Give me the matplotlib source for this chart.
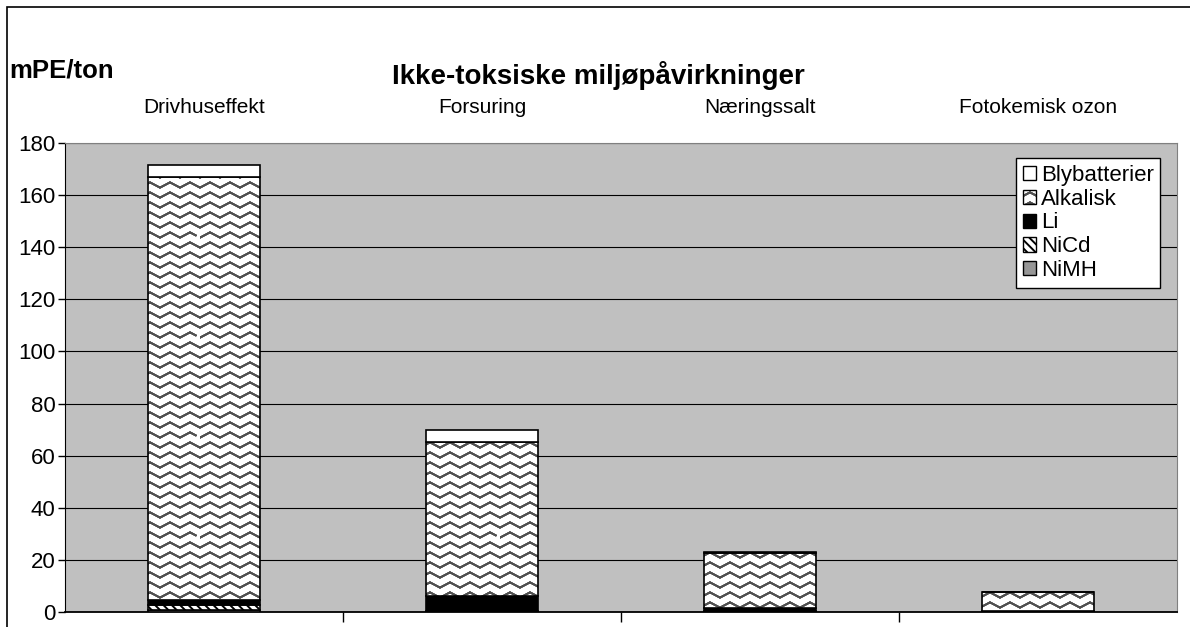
import warnings
import numpy as np
import matplotlib
matplotlib.use('Agg')
import matplotlib.pyplot as plt
import matplotlib.hatch as mhatch
from matplotlib.colors import to_rgba
from matplotlib.path import Path
from matplotlib.patches import Rectangle

warnings.filterwarnings('ignore')

# data (mPE/ton)
categories = ['Drivhuseffekt', 'Forsuring', 'Næringssalt', 'Fotokemisk ozon']
nimh = [0.6, 0.2, 0.1, 0.0]
nicd = [2.0, 0.3, 0.2, 0.1]
li = [2.2, 5.5, 1.2, 0.1]
alkalisk = [162.2, 59.3, 21.0, 7.3]
blybatterier = [4.5, 4.5, 0.6, 0.2]
yticks = [0, 20, 40, 60, 80, 100, 120, 140, 160, 180]


# zigzag hatch like the old Excel wave pattern, used with the '~' character.
# Agg also fills hatch paths, so each row goes out and back (zero area).
class WaveHatch(mhatch.HatchPatternBase):
    rows = 10
    waves = 5

    def __init__(self, hatch, density):
        self.on = '~' in hatch
        n = 2 * self.waves + 1
        self.num_vertices = self.rows * (2 * n - 1) if self.on else 0

    def set_vertices_and_codes(self, vertices, codes):
        n = 2 * self.waves + 1
        m = 2 * n - 1
        x = np.linspace(0, 1, n)
        amp = np.where(np.arange(n) % 2 == 0, -0.026, 0.026)
        xs = np.concatenate([x, x[-2::-1]])
        dy = np.concatenate([amp, amp[-2::-1]])
        for i in range(self.rows):
            vertices[i * m:(i + 1) * m, 0] = xs
            vertices[i * m:(i + 1) * m, 1] = (i + 0.5) / self.rows + dy
            codes[i * m] = Path.MOVETO
            codes[i * m + 1:(i + 1) * m] = Path.LINETO


mhatch._hatch_types.append(WaveHatch)

plt.rcParams['font.family'] = ['Liberation Sans', 'DejaVu Sans']
plt.rcParams['hatch.linewidth'] = 1.4

fig = plt.figure(figsize=(11.9, 6.27), dpi=100)
ax = fig.add_axes([0.0546, 0.0239, 0.9345, 0.748])
ax.set_facecolor('#c0c0c0')

x = np.arange(len(categories))
w = 0.4
bottom = np.zeros(len(categories))
series = [
    ('NiMH', nimh, dict(color='#969696', hatch=None)),
    ('NiCd', nicd, dict(color='white', hatch='\\\\\\\\')),
    ('Li', li, dict(color='black', hatch=None)),
    ('Alkalisk', alkalisk, dict(color='white', hatch='~')),
    ('Blybatterier', blybatterier, dict(color='white', hatch=None)),
]
handles = []
for name, vals, st in series:
    b = ax.bar(x, vals, w, bottom=bottom, color=st['color'], hatch=st['hatch'],
               edgecolor='black', linewidth=1.2, label=name, zorder=3)
    if st['hatch'] == '~':
        for p in b.patches:
            p._hatch_color = to_rgba('#505050')
    handles.append(b)
    bottom += np.array(vals)

ax.set_xlim(-0.5, len(categories) - 0.5)
ax.set_ylim(0, 180)
ax.set_yticks(yticks)
ax.tick_params(axis='y', labelsize=16, length=5, width=1, pad=2)
ax.yaxis.grid(True, color='black', linewidth=0.8, zorder=0)
ax.set_axisbelow(True)

# category names on top, boundary ticks at the bottom
ax.set_xticks(x)
ax.set_xticklabels(categories, fontsize=15)
ax.tick_params(axis='x', which='major', top=False, bottom=False,
               labeltop=True, labelbottom=False, pad=15)
ax.set_xticks(x[:-1] + 0.5, minor=True)
ax.tick_params(axis='x', which='minor', bottom=True, length=7, width=1)

ax.spines['left'].set_color('black')
ax.spines['bottom'].set_color('black')
ax.spines['bottom'].set_linewidth(1.3)
ax.spines['top'].set_color('#808080')
ax.spines['right'].set_color('#808080')

leg = ax.legend(handles[::-1], [s[0] for s in series][::-1],
                loc='upper right', bbox_to_anchor=(0.985, 0.968),
                borderaxespad=0, fontsize=16, frameon=True, fancybox=False,
                edgecolor='black', framealpha=1, handlelength=0.6,
                handleheight=0.6, handletextpad=0.2, labelspacing=0.13,
                borderpad=0.3)
leg.get_frame().set_linewidth(1)
for h in leg.legend_handles:
    h.set_linewidth(1)

fig.text(0.503, 0.88, 'Ikke-toksiske miljøpåvirkninger', ha='center', va='center',
         fontsize=20, fontweight='bold')
fig.text(0.008, 0.888, 'mPE/ton', ha='left', va='center',
         fontsize=18.5, fontweight='bold')

# outer chart frame (only left and top edges visible in the crop)
fig.add_artist(Rectangle((0.006, -0.2), 1.2, 1.1888, transform=fig.transFigure,
                         fill=False, edgecolor='black', linewidth=1.2, clip_on=False))

fig.savefig('out.png', dpi=100)
